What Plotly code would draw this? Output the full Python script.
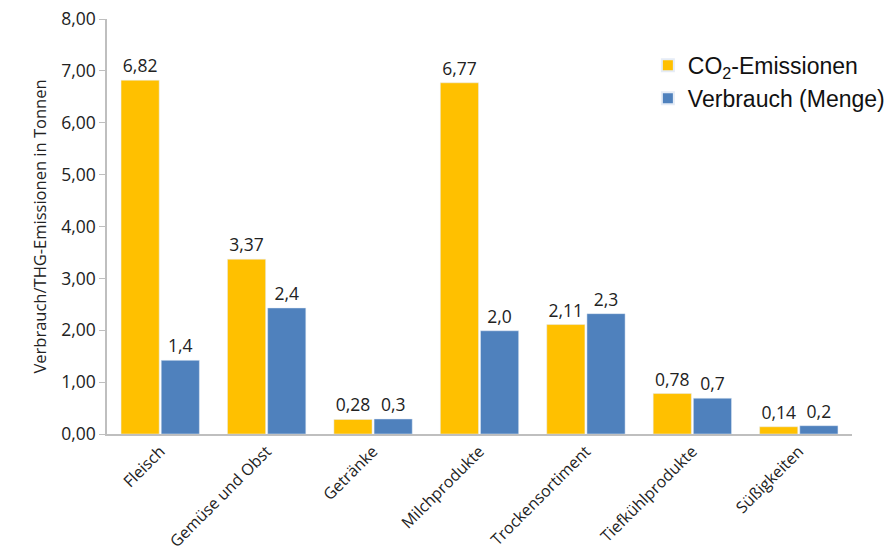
import plotly.graph_objects as go

categories = ["Fleisch", "Gemüse und Obst", "Getränke", "Milchprodukte",
              "Trockensortiment", "Tiefkühlprodukte", "Süßigkeiten"]
co2_values = [6.82, 3.37, 0.28, 6.77, 2.11, 0.78, 0.14]
menge_values = [1.42, 2.43, 0.29, 1.99, 2.32, 0.69, 0.16]
y_ticks = [0, 1, 2, 3, 4, 5, 6, 7, 8]

def de(v, d):
    return f"{v:.{d}f}".replace(".", ",")

FONT = "Open Sans"

fig = go.Figure()
fig.add_trace(go.Bar(
    x=categories, y=co2_values, name="CO<sub>2</sub>-Emissionen",
    marker=dict(color="#FFC000"),
    text=[de(v, 2) for v in co2_values], textposition="outside",
    textfont=dict(family=FONT, size=17.5, color="#222222"),
    cliponaxis=False,
))
fig.add_trace(go.Bar(
    x=categories, y=menge_values, name="Verbrauch (Menge)",
    marker=dict(color="#4F81BD"),
    text=[de(v, 1) for v in menge_values], textposition="outside",
    textfont=dict(family=FONT, size=17.5, color="#222222"),
    cliponaxis=False,
))

fig.update_layout(
    width=895, height=555,
    margin=dict(l=107, r=43, t=19, b=121, autoexpand=False),
    paper_bgcolor="white", plot_bgcolor="white",
    barmode="group", bargap=0.245, bargroupgap=0.05,
    font=dict(family=FONT, size=16, color="#222222"),
    legend=dict(
        x=0.726, y=0.94, xanchor="left", yanchor="top",
        font=dict(family="Liberation Sans, Arial", size=23, color="#111111"),
        bgcolor="rgba(0,0,0,0)", itemsizing="constant",
        tracegroupgap=0,
    ),
)
fig.update_xaxes(
    tickangle=-45, showline=True, linecolor="#BFBFBF", linewidth=1.5,
    ticks="", showgrid=False, automargin=False,
    tickfont=dict(family=FONT, size=16, color="#222222"),
)
fig.update_yaxes(
    range=[0, 8], tickvals=y_ticks, ticktext=[de(v, 2) for v in y_ticks],
    showline=True, linecolor="#BFBFBF", linewidth=1.5,
    ticks="outside", ticklen=6, tickcolor="#BFBFBF",
    showgrid=False, zeroline=False, automargin=False,
    tickfont=dict(family=FONT, size=17.5, color="#222222"),
    title=dict(text="Verbrauch/THG-Emissionen in Tonnen",
               font=dict(family=FONT, size=16.5, color="#222222"), standoff=10),
)

fig.write_html("out.html")
